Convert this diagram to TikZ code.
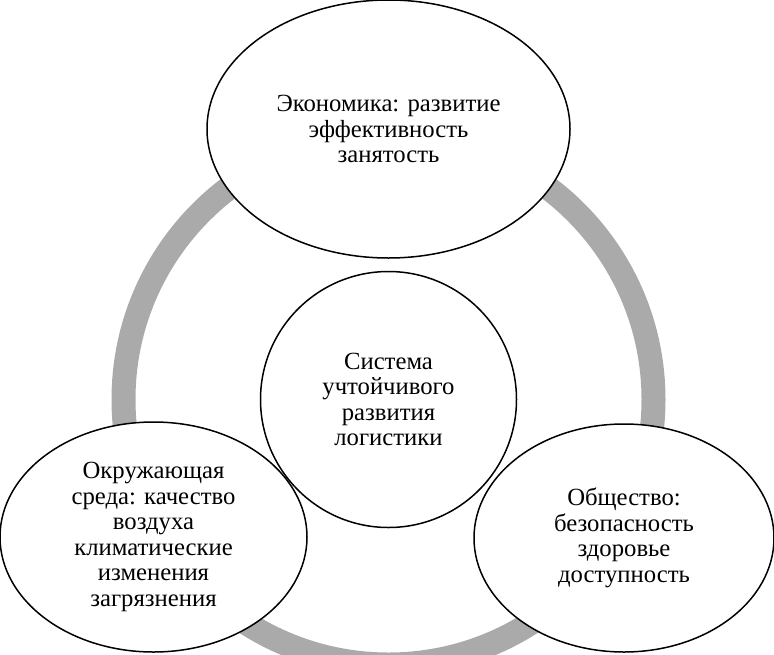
\documentclass[tikz,border=0pt]{standalone}
\usepackage{fontspec}
\setmainfont{Liberation Serif}
\usetikzlibrary{shapes.geometric}
\pgfdeclarelayer{bg}
\pgfsetlayers{bg,main}
\definecolor{ringgray}{RGB}{170,170,170}
\begin{document}
\begin{tikzpicture}[x=1pt,y=-1pt,
  blob/.style={ellipse, draw=black, line width=1.5pt, inner sep=0pt, align=center,
    font=\fontsize{24.7}{25.5}\selectfont},
  ringline/.style={draw=ringgray, line width=24pt}]
\useasboundingbox (0,0) rectangle (774,654);
\node[blob, minimum width=363pt, minimum height=258pt] (eco) at (388.5,129)
  {Экономика: развитие\\эффективность\\занятость};
\node[blob, circle, minimum size=256pt] (core) at (388.5,399.5)
  {Система\\учтойчивого\\развития\\логистики};
\node[blob, minimum width=307pt, minimum height=230pt] (env) at (153.5,537)
  {Окружающая\\среда: качество\\воздуха\\климатические\\изменения\\загрязнения};
\node[blob, minimum width=300pt, minimum height=228pt] (soc) at (624,538)
  {Общество:\\безопасность\\здоровье\\доступность};
\begin{pgfonlayer}{bg}
  \draw[ringline] (core.center) circle[radius=265pt];
  \fill[white] (eco.center) ellipse[x radius=181.5pt, y radius=129pt];
  \fill[white] (core.center) circle[radius=128pt];
  \fill[white] (env.center) ellipse[x radius=153.5pt, y radius=115pt];
  \fill[white] (soc.center) ellipse[x radius=150pt, y radius=114pt];
\end{pgfonlayer}
\end{tikzpicture}
\end{document}
